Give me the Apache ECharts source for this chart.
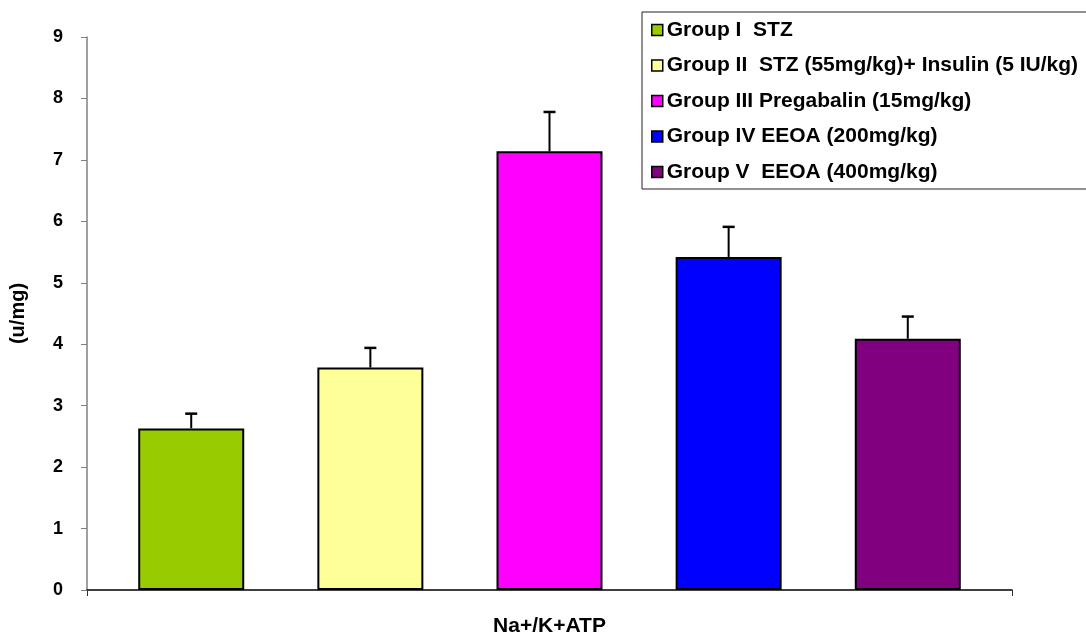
<!DOCTYPE html>
<html>
<head>
<meta charset="utf-8">
<script src="https://cdn.jsdelivr.net/npm/echarts@6/dist/echarts.min.js"></script>
<style>html,body{margin:0;padding:0;background:#fff}#c{width:1086px;height:637px}</style>
</head>
<body>
<div id="c"></div>
<script>
const categories = ['Na+/K+ATP'];
const groupNames = [
  'Group I  STZ',
  'Group II  STZ (55mg/kg)+ Insulin (5 IU/kg)',
  'Group III Pregabalin (15mg/kg)',
  'Group IV EEOA (200mg/kg)',
  'Group V  EEOA (400mg/kg)'
];
const means = [2.63, 3.62, 7.14, 5.42, 4.09];
const errors = [0.24, 0.32, 0.64, 0.49, 0.36];
const colors = ['#99CC00', '#FFFF99', '#FF00FF', '#0000FF', '#800080'];
const yTicks = { min: 0, max: 9, interval: 1 };

const FONT = 'Arial, "Liberation Sans", sans-serif';
const BAR_W = 106, BAR_GAP = 0.69;

const chart = echarts.init(document.getElementById('c'));

const barSeries = groupNames.map((name, i) => ({
  name: name,
  type: 'bar',
  data: [means[i]],
  barWidth: BAR_W,
  barGap: (BAR_GAP * 100) + '%',
  barCategoryGap: '11%',
  itemStyle: { color: colors[i], borderColor: '#000', borderWidth: 2 },
  emphasis: { disabled: true },
  animation: false
}));

const errData = means.map((m, i) => [0, m, errors[i], i]);

const errSeries = {
  type: 'custom',
  name: 'err',
  data: errData,
  z: 10,
  animation: false,
  silent: true,
  renderItem: function (params, api) {
    const v = api.value(1), e = api.value(2), idx = api.value(3);
    const base = api.coord([0, v]);
    const top = api.coord([0, v + e]);
    const step = BAR_W * (1 + BAR_GAP);
    const x = base[0] + (idx - (means.length - 1) / 2) * step;
    const cap = 6;
    return {
      type: 'group',
      children: [
        { type: 'line', shape: { x1: x, y1: base[1], x2: x, y2: top[1] }, style: { stroke: '#000', lineWidth: 2 } },
        { type: 'line', shape: { x1: x - cap, y1: top[1], x2: x + cap, y2: top[1] }, style: { stroke: '#000', lineWidth: 2.5 } }
      ]
    };
  }
};

chart.setOption({
  animation: false,
  backgroundColor: '#fff',
  textStyle: { fontFamily: FONT },
  grid: { left: 87, right: 74, top: 37, bottom: 46, containLabel: false },
  legend: {
    data: groupNames.map(n => ({ name: n, icon: 'rect' })),
    orient: 'vertical',
    left: 642,
    top: 12,
    padding: [7, 24, 6, 9],
    itemWidth: 11,
    itemHeight: 11,
    itemGap: 13.5,
    borderColor: '#222',
    borderWidth: 1,
    backgroundColor: '#fff',
    selectedMode: false,
    itemStyle: { borderColor: '#000', borderWidth: 1.5 },
    textStyle: { fontFamily: FONT, fontWeight: 'bold', fontSize: 21, color: '#000', lineHeight: 22, padding: [0, 0, 0, -1] }
  },
  xAxis: {
    type: 'category',
    data: categories,
    axisLine: { lineStyle: { color: '#000', width: 1.5 } },
    axisTick: { show: true, length: 6, lineStyle: { color: '#333' } },
    axisLabel: { fontFamily: FONT, fontWeight: 'bold', fontSize: 21, color: '#000', margin: 26 },
    splitLine: { show: false }
  },
  yAxis: {
    type: 'value',
    min: yTicks.min,
    max: yTicks.max,
    interval: yTicks.interval,
    name: '(u/mg)',
    nameLocation: 'middle',
    nameRotate: 90,
    nameGap: 59,
    nameTextStyle: { fontFamily: FONT, fontWeight: 'bold', fontSize: 20, color: '#000' },
    axisLine: { show: true, lineStyle: { color: '#808080', width: 1.5 } },
    axisTick: { show: true, length: 6, lineStyle: { color: '#808080' } },
    axisLabel: { fontFamily: FONT, fontWeight: 'bold', fontSize: 18, color: '#000', margin: 24 },
    splitLine: { show: false }
  },
  series: barSeries.concat([errSeries])
});
</script>
</body>
</html>
